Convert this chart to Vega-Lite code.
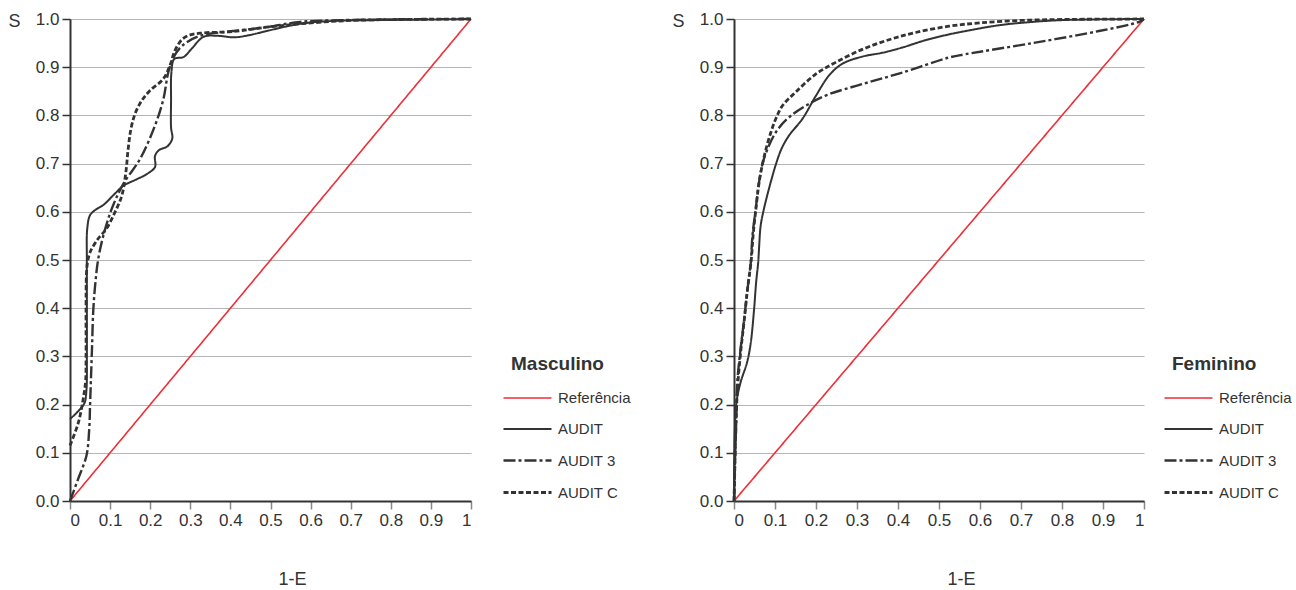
{
"$schema": "https://vega.github.io/schema/vega-lite/v6.json",
"background": "white",
"padding": {"left": 7, "top": 10, "right": 0, "bottom": 0},
"config": {
  "font": "Liberation Sans",
  "view": {"stroke": null},
  "legend": {"orient": "none", "symbolType": "M-1.6,0H1.6", "symbolSize": 900, "symbolStrokeWidth": 3.2, "labelFontSize": 15, "labelColor": "#333", "labelFont": "Liberation Sans", "titleFontSize": 19, "titleFontWeight": "bold", "titleColor": "#333", "titleFont": "Liberation Sans", "rowPadding": 2.5, "labelOffset": 14, "titlePadding": 8},
  "axisY": {"values": [0,0.1,0.2,0.3,0.4,0.5,0.6,0.7,0.8,0.9,1], "format": ".1f", "grid": true, "gridColor": "#b5b5b5", "gridWidth": 1, "domainColor": "#333", "domainWidth": 2, "tickColor": "#333", "tickSize": 8, "tickWidth": 1.5, "labelFontSize": 17, "labelColor": "#333", "labelPadding": 3, "titleAngle": 0, "titleAlign": "center", "titleBaseline": "middle", "titleFontSize": 18, "titleFontWeight": "normal", "titleColor": "#333", "titleY": 2, "titleX": -56},
  "axisX": {"values": [0,0.1,0.2,0.3,0.4,0.5,0.6,0.7,0.8,0.9,1], "labelExpr": "datum.value == 0 ? '0' : datum.value == 1 ? '1' : format(datum.value, '.1f')", "grid": true, "gridColor": "#b5b5b5", "gridOpacity": {"condition": {"test": "datum.value == 1", "value": 1}, "value": 0}, "domainColor": "#333", "domainWidth": 2, "tickColor": "#888", "tickSize": 8, "tickWidth": 1.5, "labelFontSize": 17, "labelColor": "#333", "labelPadding": 3, "titleFontSize": 18, "titleFontWeight": "normal", "titleColor": "#333", "titleBaseline": "middle", "titleY": 78}
},
"datasets": {"d": [
{"p":"M","s":"Referência","o":0,"x":0,"y":0},{"p":"M","s":"Referência","o":1,"x":1,"y":1},
{"p":"M","s":"AUDIT","o":0,"x":0,"y":0.17},{"p":"M","s":"AUDIT","o":1,"x":0.02,"y":0.186},{"p":"M","s":"AUDIT","o":2,"x":0.036,"y":0.203},{"p":"M","s":"AUDIT","o":3,"x":0.041,"y":0.23},{"p":"M","s":"AUDIT","o":4,"x":0.042,"y":0.3},{"p":"M","s":"AUDIT","o":5,"x":0.042,"y":0.4},{"p":"M","s":"AUDIT","o":6,"x":0.042,"y":0.5},{"p":"M","s":"AUDIT","o":7,"x":0.043,"y":0.565},{"p":"M","s":"AUDIT","o":8,"x":0.05,"y":0.593},{"p":"M","s":"AUDIT","o":9,"x":0.065,"y":0.605},{"p":"M","s":"AUDIT","o":10,"x":0.083,"y":0.614},{"p":"M","s":"AUDIT","o":11,"x":0.11,"y":0.636},{"p":"M","s":"AUDIT","o":12,"x":0.133,"y":0.654},{"p":"M","s":"AUDIT","o":13,"x":0.165,"y":0.667},{"p":"M","s":"AUDIT","o":14,"x":0.191,"y":0.678},{"p":"M","s":"AUDIT","o":15,"x":0.212,"y":0.693},{"p":"M","s":"AUDIT","o":16,"x":0.212,"y":0.716},{"p":"M","s":"AUDIT","o":17,"x":0.222,"y":0.728},{"p":"M","s":"AUDIT","o":18,"x":0.243,"y":0.736},{"p":"M","s":"AUDIT","o":19,"x":0.255,"y":0.752},{"p":"M","s":"AUDIT","o":20,"x":0.252,"y":0.775},{"p":"M","s":"AUDIT","o":21,"x":0.252,"y":0.83},{"p":"M","s":"AUDIT","o":22,"x":0.253,"y":0.89},{"p":"M","s":"AUDIT","o":23,"x":0.26,"y":0.917},{"p":"M","s":"AUDIT","o":24,"x":0.283,"y":0.921},{"p":"M","s":"AUDIT","o":25,"x":0.303,"y":0.938},{"p":"M","s":"AUDIT","o":26,"x":0.333,"y":0.963},{"p":"M","s":"AUDIT","o":27,"x":0.37,"y":0.965},{"p":"M","s":"AUDIT","o":28,"x":0.41,"y":0.962},{"p":"M","s":"AUDIT","o":29,"x":0.45,"y":0.967},{"p":"M","s":"AUDIT","o":30,"x":0.49,"y":0.975},{"p":"M","s":"AUDIT","o":31,"x":0.574,"y":0.99},{"p":"M","s":"AUDIT","o":32,"x":0.657,"y":0.996},{"p":"M","s":"AUDIT","o":33,"x":0.8,"y":0.998},{"p":"M","s":"AUDIT","o":34,"x":1,"y":1},
{"p":"M","s":"AUDIT 3","o":0,"x":0,"y":0},{"p":"M","s":"AUDIT 3","o":1,"x":0.02,"y":0.045},{"p":"M","s":"AUDIT 3","o":2,"x":0.041,"y":0.094},{"p":"M","s":"AUDIT 3","o":3,"x":0.048,"y":0.15},{"p":"M","s":"AUDIT 3","o":4,"x":0.05,"y":0.198},{"p":"M","s":"AUDIT 3","o":5,"x":0.052,"y":0.247},{"p":"M","s":"AUDIT 3","o":6,"x":0.055,"y":0.32},{"p":"M","s":"AUDIT 3","o":7,"x":0.058,"y":0.395},{"p":"M","s":"AUDIT 3","o":8,"x":0.063,"y":0.45},{"p":"M","s":"AUDIT 3","o":9,"x":0.07,"y":0.5},{"p":"M","s":"AUDIT 3","o":10,"x":0.083,"y":0.55},{"p":"M","s":"AUDIT 3","o":11,"x":0.104,"y":0.606},{"p":"M","s":"AUDIT 3","o":12,"x":0.133,"y":0.658},{"p":"M","s":"AUDIT 3","o":13,"x":0.175,"y":0.71},{"p":"M","s":"AUDIT 3","o":14,"x":0.212,"y":0.779},{"p":"M","s":"AUDIT 3","o":15,"x":0.233,"y":0.834},{"p":"M","s":"AUDIT 3","o":16,"x":0.245,"y":0.889},{"p":"M","s":"AUDIT 3","o":17,"x":0.258,"y":0.92},{"p":"M","s":"AUDIT 3","o":18,"x":0.279,"y":0.944},{"p":"M","s":"AUDIT 3","o":19,"x":0.324,"y":0.965},{"p":"M","s":"AUDIT 3","o":20,"x":0.407,"y":0.975},{"p":"M","s":"AUDIT 3","o":21,"x":0.49,"y":0.983},{"p":"M","s":"AUDIT 3","o":22,"x":0.574,"y":0.994},{"p":"M","s":"AUDIT 3","o":23,"x":0.7,"y":0.998},{"p":"M","s":"AUDIT 3","o":24,"x":1,"y":1},
{"p":"M","s":"AUDIT C","o":0,"x":0,"y":0.115},{"p":"M","s":"AUDIT C","o":1,"x":0.021,"y":0.163},{"p":"M","s":"AUDIT C","o":2,"x":0.033,"y":0.212},{"p":"M","s":"AUDIT C","o":3,"x":0.039,"y":0.25},{"p":"M","s":"AUDIT C","o":4,"x":0.04,"y":0.3},{"p":"M","s":"AUDIT C","o":5,"x":0.04,"y":0.4},{"p":"M","s":"AUDIT C","o":6,"x":0.041,"y":0.47},{"p":"M","s":"AUDIT C","o":7,"x":0.044,"y":0.497},{"p":"M","s":"AUDIT C","o":8,"x":0.05,"y":0.516},{"p":"M","s":"AUDIT C","o":9,"x":0.07,"y":0.544},{"p":"M","s":"AUDIT C","o":10,"x":0.091,"y":0.565},{"p":"M","s":"AUDIT C","o":11,"x":0.112,"y":0.599},{"p":"M","s":"AUDIT C","o":12,"x":0.129,"y":0.633},{"p":"M","s":"AUDIT C","o":13,"x":0.139,"y":0.68},{"p":"M","s":"AUDIT C","o":14,"x":0.145,"y":0.73},{"p":"M","s":"AUDIT C","o":15,"x":0.152,"y":0.772},{"p":"M","s":"AUDIT C","o":16,"x":0.163,"y":0.805},{"p":"M","s":"AUDIT C","o":17,"x":0.18,"y":0.832},{"p":"M","s":"AUDIT C","o":18,"x":0.2,"y":0.852},{"p":"M","s":"AUDIT C","o":19,"x":0.233,"y":0.876},{"p":"M","s":"AUDIT C","o":20,"x":0.249,"y":0.903},{"p":"M","s":"AUDIT C","o":21,"x":0.262,"y":0.935},{"p":"M","s":"AUDIT C","o":22,"x":0.28,"y":0.958},{"p":"M","s":"AUDIT C","o":23,"x":0.3,"y":0.967},{"p":"M","s":"AUDIT C","o":24,"x":0.33,"y":0.971},{"p":"M","s":"AUDIT C","o":25,"x":0.407,"y":0.974},{"p":"M","s":"AUDIT C","o":26,"x":0.49,"y":0.983},{"p":"M","s":"AUDIT C","o":27,"x":0.574,"y":0.99},{"p":"M","s":"AUDIT C","o":28,"x":0.7,"y":0.997},{"p":"M","s":"AUDIT C","o":29,"x":1,"y":1},
{"p":"F","s":"Referência","o":0,"x":0,"y":0},{"p":"F","s":"Referência","o":1,"x":1,"y":1},
{"p":"F","s":"AUDIT","o":0,"x":0,"y":0},{"p":"F","s":"AUDIT","o":1,"x":0.002,"y":0.142},{"p":"F","s":"AUDIT","o":2,"x":0.006,"y":0.205},{"p":"F","s":"AUDIT","o":3,"x":0.016,"y":0.246},{"p":"F","s":"AUDIT","o":4,"x":0.032,"y":0.288},{"p":"F","s":"AUDIT","o":5,"x":0.041,"y":0.329},{"p":"F","s":"AUDIT","o":6,"x":0.049,"y":0.398},{"p":"F","s":"AUDIT","o":7,"x":0.054,"y":0.454},{"p":"F","s":"AUDIT","o":8,"x":0.059,"y":0.495},{"p":"F","s":"AUDIT","o":9,"x":0.061,"y":0.523},{"p":"F","s":"AUDIT","o":10,"x":0.065,"y":0.571},{"p":"F","s":"AUDIT","o":11,"x":0.073,"y":0.606},{"p":"F","s":"AUDIT","o":12,"x":0.085,"y":0.647},{"p":"F","s":"AUDIT","o":13,"x":0.102,"y":0.698},{"p":"F","s":"AUDIT","o":14,"x":0.116,"y":0.731},{"p":"F","s":"AUDIT","o":15,"x":0.134,"y":0.758},{"p":"F","s":"AUDIT","o":16,"x":0.167,"y":0.793},{"p":"F","s":"AUDIT","o":17,"x":0.2,"y":0.841},{"p":"F","s":"AUDIT","o":18,"x":0.232,"y":0.883},{"p":"F","s":"AUDIT","o":19,"x":0.264,"y":0.907},{"p":"F","s":"AUDIT","o":20,"x":0.313,"y":0.922},{"p":"F","s":"AUDIT","o":21,"x":0.362,"y":0.93},{"p":"F","s":"AUDIT","o":22,"x":0.411,"y":0.941},{"p":"F","s":"AUDIT","o":23,"x":0.467,"y":0.956},{"p":"F","s":"AUDIT","o":24,"x":0.524,"y":0.968},{"p":"F","s":"AUDIT","o":25,"x":0.565,"y":0.975},{"p":"F","s":"AUDIT","o":26,"x":0.646,"y":0.987},{"p":"F","s":"AUDIT","o":27,"x":0.728,"y":0.994},{"p":"F","s":"AUDIT","o":28,"x":0.809,"y":0.998},{"p":"F","s":"AUDIT","o":29,"x":1,"y":1},
{"p":"F","s":"AUDIT 3","o":0,"x":0,"y":0},{"p":"F","s":"AUDIT 3","o":1,"x":0.003,"y":0.1},{"p":"F","s":"AUDIT 3","o":2,"x":0.006,"y":0.18},{"p":"F","s":"AUDIT 3","o":3,"x":0.008,"y":0.246},{"p":"F","s":"AUDIT 3","o":4,"x":0.016,"y":0.315},{"p":"F","s":"AUDIT 3","o":5,"x":0.024,"y":0.371},{"p":"F","s":"AUDIT 3","o":6,"x":0.032,"y":0.433},{"p":"F","s":"AUDIT 3","o":7,"x":0.041,"y":0.495},{"p":"F","s":"AUDIT 3","o":8,"x":0.045,"y":0.55},{"p":"F","s":"AUDIT 3","o":9,"x":0.053,"y":0.606},{"p":"F","s":"AUDIT 3","o":10,"x":0.061,"y":0.661},{"p":"F","s":"AUDIT 3","o":11,"x":0.073,"y":0.71},{"p":"F","s":"AUDIT 3","o":12,"x":0.102,"y":0.765},{"p":"F","s":"AUDIT 3","o":13,"x":0.134,"y":0.796},{"p":"F","s":"AUDIT 3","o":14,"x":0.183,"y":0.824},{"p":"F","s":"AUDIT 3","o":15,"x":0.232,"y":0.844},{"p":"F","s":"AUDIT 3","o":16,"x":0.313,"y":0.865},{"p":"F","s":"AUDIT 3","o":17,"x":0.411,"y":0.889},{"p":"F","s":"AUDIT 3","o":18,"x":0.524,"y":0.92},{"p":"F","s":"AUDIT 3","o":19,"x":0.565,"y":0.927},{"p":"F","s":"AUDIT 3","o":20,"x":0.728,"y":0.95},{"p":"F","s":"AUDIT 3","o":21,"x":0.89,"y":0.975},{"p":"F","s":"AUDIT 3","o":22,"x":0.988,"y":0.994},{"p":"F","s":"AUDIT 3","o":23,"x":1,"y":1},
{"p":"F","s":"AUDIT C","o":0,"x":0,"y":0},{"p":"F","s":"AUDIT C","o":1,"x":0.003,"y":0.1},{"p":"F","s":"AUDIT C","o":2,"x":0.006,"y":0.19},{"p":"F","s":"AUDIT C","o":3,"x":0.01,"y":0.25},{"p":"F","s":"AUDIT C","o":4,"x":0.017,"y":0.315},{"p":"F","s":"AUDIT C","o":5,"x":0.025,"y":0.375},{"p":"F","s":"AUDIT C","o":6,"x":0.033,"y":0.44},{"p":"F","s":"AUDIT C","o":7,"x":0.042,"y":0.5},{"p":"F","s":"AUDIT C","o":8,"x":0.047,"y":0.555},{"p":"F","s":"AUDIT C","o":9,"x":0.054,"y":0.61},{"p":"F","s":"AUDIT C","o":10,"x":0.062,"y":0.665},{"p":"F","s":"AUDIT C","o":11,"x":0.075,"y":0.72},{"p":"F","s":"AUDIT C","o":12,"x":0.09,"y":0.765},{"p":"F","s":"AUDIT C","o":13,"x":0.102,"y":0.793},{"p":"F","s":"AUDIT C","o":14,"x":0.118,"y":0.82},{"p":"F","s":"AUDIT C","o":15,"x":0.15,"y":0.848},{"p":"F","s":"AUDIT C","o":16,"x":0.2,"y":0.886},{"p":"F","s":"AUDIT C","o":17,"x":0.248,"y":0.91},{"p":"F","s":"AUDIT C","o":18,"x":0.313,"y":0.937},{"p":"F","s":"AUDIT C","o":19,"x":0.378,"y":0.957},{"p":"F","s":"AUDIT C","o":20,"x":0.443,"y":0.972},{"p":"F","s":"AUDIT C","o":21,"x":0.524,"y":0.985},{"p":"F","s":"AUDIT C","o":22,"x":0.6,"y":0.992},{"p":"F","s":"AUDIT C","o":23,"x":0.7,"y":0.997},{"p":"F","s":"AUDIT C","o":24,"x":0.8,"y":0.999},{"p":"F","s":"AUDIT C","o":25,"x":1,"y":1}
]},
"spacing": 40,
"resolve": {"scale": {"color": "independent", "strokeDash": "independent", "strokeWidth": "independent"}},
"hconcat": [
{
  "width": 401, "height": 482,
  "data": {"name": "d"},
  "transform": [{"filter": "datum.p == 'M'"}],
  "mark": {"type": "line", "interpolate": "catmull-rom"},
  "encoding": {
    "x": {"field": "x", "type": "quantitative", "scale": {"domain": [0, 1], "nice": false, "zero": false}, "axis": {"title": "1-E", "titleX": 222}},
    "y": {"field": "y", "type": "quantitative", "scale": {"domain": [0, 1], "nice": false}, "axis": {"title": "S"}},
    "color": {"field": "s", "type": "nominal", "scale": {"domain": ["Referência", "AUDIT", "AUDIT 3", "AUDIT C"], "range": ["#ee2e36", "#333333", "#333333", "#333333"]}, "legend": {"title": "Masculino", "legendX": 441, "legendY": 336, "rowPadding": 7, "encode": {"symbols": {"update": {"strokeWidth": {"value": 3}}}}}},
    "strokeDash": {"field": "s", "type": "nominal", "scale": {"domain": ["Referência", "AUDIT", "AUDIT 3", "AUDIT C"], "range": [[1, 0], [1, 0], [12, 3, 3, 3], [5, 2.5]]}, "legend": {"title": "Masculino", "legendX": 441, "legendY": 336, "rowPadding": 7, "encode": {"symbols": {"update": {"strokeWidth": {"value": 3}}}}}},
    "strokeWidth": {"field": "s", "type": "nominal", "scale": {"domain": ["Referência", "AUDIT", "AUDIT 3", "AUDIT C"], "range": [1.6, 2.8, 2.8, 2.8]}, "legend": null},
    "order": {"field": "o", "type": "quantitative"}
  }
},
{
  "width": 410, "height": 482,
  "data": {"name": "d"},
  "transform": [{"filter": "datum.p == 'F'"}],
  "mark": {"type": "line", "interpolate": "catmull-rom"},
  "encoding": {
    "x": {"field": "x", "type": "quantitative", "scale": {"domain": [0, 1], "nice": false, "zero": false}, "axis": {"title": "1-E", "titleX": 227}},
    "y": {"field": "y", "type": "quantitative", "scale": {"domain": [0, 1], "nice": false}, "axis": {"title": "S"}},
    "color": {"field": "s", "type": "nominal", "scale": {"domain": ["Referência", "AUDIT", "AUDIT 3", "AUDIT C"], "range": ["#ee2e36", "#333333", "#333333", "#333333"]}, "legend": {"title": "Feminino", "legendX": 438, "legendY": 336, "rowPadding": 7, "encode": {"symbols": {"update": {"strokeWidth": {"value": 3}}}}}},
    "strokeDash": {"field": "s", "type": "nominal", "scale": {"domain": ["Referência", "AUDIT", "AUDIT 3", "AUDIT C"], "range": [[1, 0], [1, 0], [12, 3, 3, 3], [5, 2.5]]}, "legend": {"title": "Feminino", "legendX": 438, "legendY": 336, "rowPadding": 7, "encode": {"symbols": {"update": {"strokeWidth": {"value": 3}}}}}},
    "strokeWidth": {"field": "s", "type": "nominal", "scale": {"domain": ["Referência", "AUDIT", "AUDIT 3", "AUDIT C"], "range": [1.6, 2.8, 2.8, 2.8]}, "legend": null},
    "order": {"field": "o", "type": "quantitative"}
  }
}
]
}
